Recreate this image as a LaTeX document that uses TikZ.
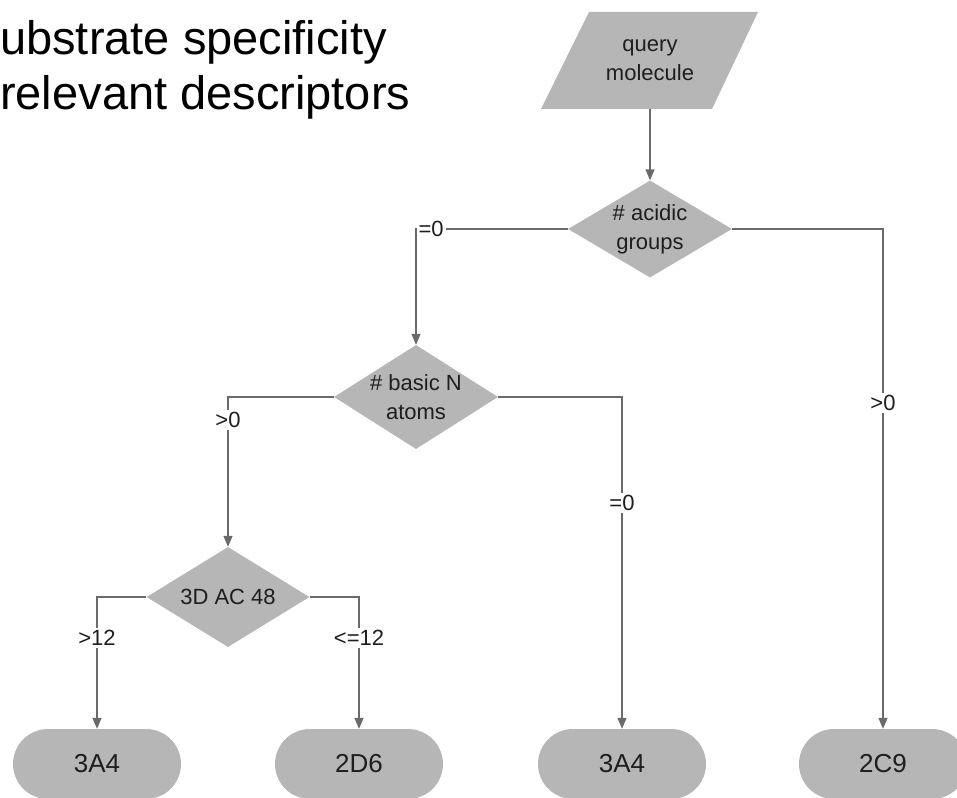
\documentclass[tikz,border=0pt]{standalone}
\usepackage{fontspec}
\setmainfont{Liberation Sans}
\usetikzlibrary{shapes.geometric,shapes.misc,arrows.meta}
\definecolor{linegray}{HTML}{6A6A6A}
\definecolor{fillgray}{HTML}{B6B6B6}
\definecolor{txt}{HTML}{1E1E1E}
\tikzset{
  conn/.style={draw=linegray, line width=1.4pt, -{Triangle[width=9pt,length=11pt]}},
  dia/.style={diamond, fill=fillgray, draw=none, inner sep=0pt, minimum width=164pt, minimum height=100pt},
  term/.style={rounded rectangle, fill=fillgray, draw=none, minimum width=168pt, minimum height=70pt, inner sep=0pt, text=txt, font=\fontsize{26}{28}\selectfont},
  intext/.style={align=center, text=txt, font=\fontsize{22}{29}\selectfont, inner sep=0pt},
  lbl/.style={fill=white, text=txt, font=\fontsize{22}{24}\selectfont, inner sep=2pt},
  head/.style={anchor=base west, inner sep=0pt, text=black, font=\fontsize{47}{50}\selectfont}
}
\begin{document}
\begin{tikzpicture}[x=1pt,y=-1pt]
\useasboundingbox (0,0) rectangle (957,797);
% heading text
\node[head] (h1) at (0,55) {ubstrate specificity};
\node[head] (h2) at (0,110) {relevant descriptors};
% query molecule parallelogram
\fill[fillgray] (589,12) -- (758,12) -- (712,109) -- (541,109) -- cycle;
\node[intext, minimum height=97pt] (q) at (650,60.5) {query\\molecule};
% diamonds
\node[dia, minimum height=97pt] (acid) at (650,229) {};
\node[intext] (acidt) at (acid.center) {\# acidic\\groups};
\node[dia, minimum height=104pt] (basic) at (416,397) {};
\node[intext] (basict) at (basic.center) {\# basic N\\atoms};
\node[dia, minimum width=163pt] (ac) at (228,597) {};
\node[intext] (act) at (ac.center) {3D AC 48};
% terminals
\node[term] (t1) at (97,764) {3A4};
\node[term] (t2) at (359,764) {2D6};
\node[term] (t3) at (622,764) {3A4};
\node[term] (t4) at (883,764) {2C9};
% connectors
\draw[conn] (q.south) -- (acid.north);
\draw[conn] (acid.west) -| node[lbl, pos=0.45] {=0} (basic.north);
\draw[conn] (acid.east) -| node[lbl, pos=0.674] {>0} (t4.north);
\draw[conn] (basic.west) -| node[lbl, pos=0.577] {>0} (ac.north);
\draw[conn] (basic.east) -| node[lbl, pos=0.66] {=0} (t3.north);
\draw[conn] (ac.west) -| node[lbl, pos=0.655] {>12} (t1.north);
\draw[conn] (ac.east) -| node[lbl, pos=0.655] {<=12} (t2.north);
\end{tikzpicture}
\end{document}
